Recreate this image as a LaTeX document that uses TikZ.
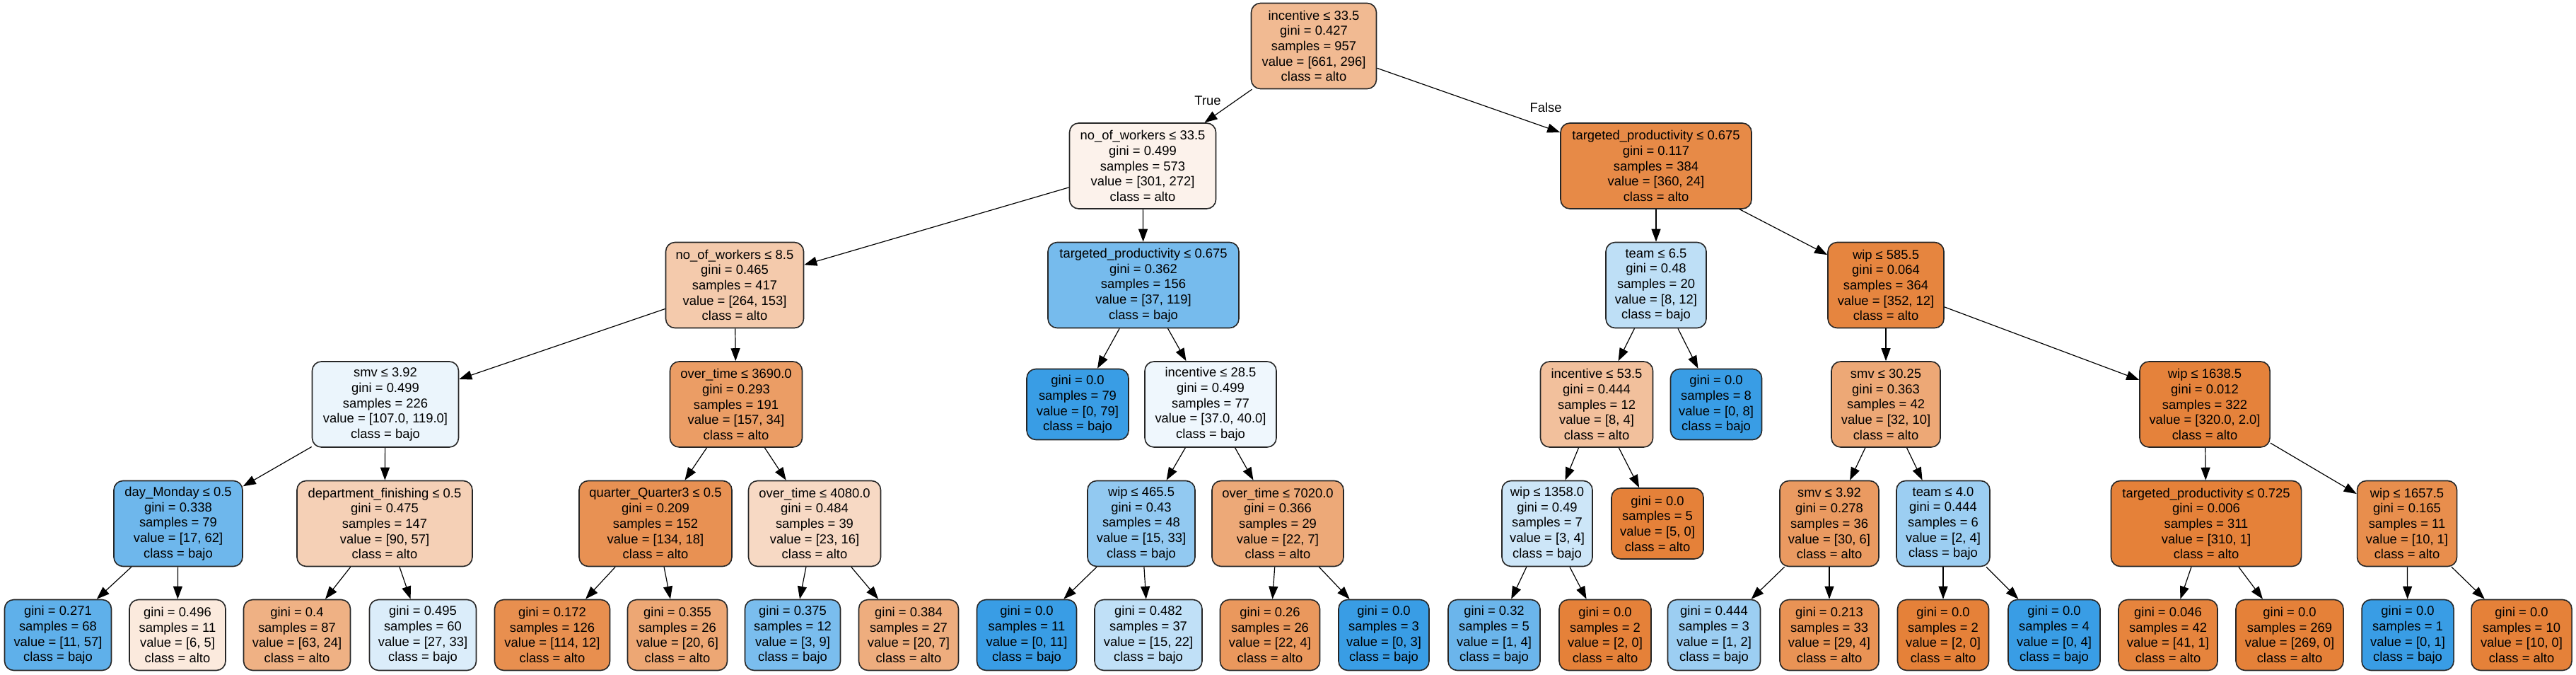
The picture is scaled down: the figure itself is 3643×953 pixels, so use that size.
\documentclass[tikz,border=0pt]{standalone}
\usepackage{fontspec}
\setmainfont{Liberation Sans}
\usetikzlibrary{arrows.meta}
\definecolor{alto}{RGB}{229,129,57}
\definecolor{bajo}{RGB}{57,157,229}

\begin{document}
\begin{tikzpicture}[x=0.5pt, y=-0.5pt,
        box/.style={draw=black!85, line width=0.8pt, rounded corners=6.5pt, align=center, inner sep=0pt, font=\fontsize{9.2}{10.85}\selectfont},
        split/.style={box, minimum height=60.5pt},
        leaf/.style={box, minimum height=50pt},
        edge/.style={-{Triangle[length=9pt, width=6.5pt]}, line width=0.6pt},
        elabel/.style={font=\fontsize{9.2}{10.85}\selectfont, inner sep=0pt}]
    \useasboundingbox (0,0) rectangle (3643,953);
    % row 1 and 2
    \node[split, fill=alto!55, minimum width=88.5pt] (n0) at (1858,65) {incentive ≤ 33.5\\gini = 0.427\\samples = 957\\value = [661, 296]\\class = alto};
    \node[split, fill=alto!10, minimum width=103.5pt] (n1) at (1616,234.5) {no\_of\_workers ≤ 33.5\\gini = 0.499\\samples = 573\\value = [301, 272]\\class = alto};
    \node[split, fill=alto!93, minimum width=135pt] (n26) at (2342,234.5) {targeted\_productivity ≤ 0.675\\gini = 0.117\\samples = 384\\value = [360, 24]\\class = alto};
    % row 3
    \node[split, fill=alto!42, minimum width=97.5pt] (n2) at (1039,403) {no\_of\_workers ≤ 8.5\\gini = 0.465\\samples = 417\\value = [264, 153]\\class = alto};
    \node[split, fill=bajo!69, minimum width=135pt] (n17) at (1617,403) {targeted\_productivity ≤ 0.675\\gini = 0.362\\samples = 156\\value = [37, 119]\\class = bajo};
    \node[split, fill=bajo!33, minimum width=71pt] (n27) at (2342,403) {team ≤ 6.5\\gini = 0.48\\samples = 20\\value = [8, 12]\\class = bajo};
    \node[split, fill=alto!97, minimum width=82pt] (n34) at (2667,403) {wip ≤ 585.5\\gini = 0.064\\samples = 364\\value = [352, 12]\\class = alto};
    % row 4
    \node[split, fill=bajo!10, minimum width=103.5pt] (n3) at (545,571.5) {smv ≤ 3.92\\gini = 0.499\\samples = 226\\value = [107.0, 119.0]\\class = bajo};
    \node[split, fill=alto!78, minimum width=93.5pt] (n10) at (1041,571.5) {over\_time ≤ 3690.0\\gini = 0.293\\samples = 191\\value = [157, 34]\\class = alto};
    \node[leaf, fill=bajo, minimum width=72pt] (n18) at (1524,571.5) {gini = 0.0\\samples = 79\\value = [0, 79]\\class = bajo};
    \node[split, fill=bajo!8, minimum width=93pt] (n19) at (1712,571.5) {incentive ≤ 28.5\\gini = 0.499\\samples = 77\\value = [37.0, 40.0]\\class = bajo};
    \node[split, fill=alto!50, minimum width=79.5pt] (n28) at (2258,571.5) {incentive ≤ 53.5\\gini = 0.444\\samples = 12\\value = [8, 4]\\class = alto};
    \node[leaf, fill=bajo, minimum width=64.5pt] (n33) at (2427,571.5) {gini = 0.0\\samples = 8\\value = [0, 8]\\class = bajo};
    \node[split, fill=alto!69, minimum width=77pt] (n35) at (2667,571.5) {smv ≤ 30.25\\gini = 0.363\\samples = 42\\value = [32, 10]\\class = alto};
    \node[split, fill=alto!99, minimum width=92pt] (n42) at (3118,571.5) {wip ≤ 1638.5\\gini = 0.012\\samples = 322\\value = [320.0, 2.0]\\class = alto};
    % row 5
    \node[split, fill=bajo!73, minimum width=91pt] (n4) at (252,740) {day\_Monday ≤ 0.5\\gini = 0.338\\samples = 79\\value = [17, 62]\\class = bajo};
    \node[split, fill=alto!37, minimum width=124pt] (n7) at (544,740) {department\_finishing ≤ 0.5\\gini = 0.475\\samples = 147\\value = [90, 57]\\class = alto};
    \node[split, fill=alto!87, minimum width=108pt] (n11) at (927,740) {quarter\_Quarter3 ≤ 0.5\\gini = 0.209\\samples = 152\\value = [134, 18]\\class = alto};
    \node[split, fill=alto!30, minimum width=93.5pt] (n14) at (1152,740) {over\_time ≤ 4080.0\\gini = 0.484\\samples = 39\\value = [23, 16]\\class = alto};
    \node[split, fill=bajo!55, minimum width=76pt] (n20) at (1614,740) {wip ≤ 465.5\\gini = 0.43\\samples = 48\\value = [15, 33]\\class = bajo};
    \node[split, fill=alto!68, minimum width=93pt] (n23) at (1807,740) {over\_time ≤ 7020.0\\gini = 0.366\\samples = 29\\value = [22, 7]\\class = alto};
    \node[split, fill=bajo!25, minimum width=64pt] (n29) at (2188,740) {wip ≤ 1358.0\\gini = 0.49\\samples = 7\\value = [3, 4]\\class = bajo};
    \node[leaf, fill=alto, minimum width=65pt] (n32) at (2344,740) {gini = 0.0\\samples = 5\\value = [5, 0]\\class = alto};
    \node[split, fill=alto!80, minimum width=70pt] (n36) at (2587,740) {smv ≤ 3.92\\gini = 0.278\\samples = 36\\value = [30, 6]\\class = alto};
    \node[split, fill=bajo!50, minimum width=66pt] (n39) at (2748,740) {team ≤ 4.0\\gini = 0.444\\samples = 6\\value = [2, 4]\\class = bajo};
    \node[split, fill=alto, minimum width=134.5pt] (n43) at (3120,740) {targeted\_productivity ≤ 0.725\\gini = 0.006\\samples = 311\\value = [310, 1]\\class = alto};
    \node[split, fill=alto!90, minimum width=70.5pt] (n46) at (3404,740) {wip ≤ 1657.5\\gini = 0.165\\samples = 11\\value = [10, 1]\\class = alto};
    % row 6, leaves
    \node[leaf, fill=bajo!81, minimum width=75.5pt] (n5) at (82,897.5) {gini = 0.271\\samples = 68\\value = [11, 57]\\class = bajo};
    \node[leaf, fill=alto!17, minimum width=68pt] (n6) at (251,897.5) {gini = 0.496\\samples = 11\\value = [6, 5]\\class = alto};
    \node[leaf, fill=alto!62, minimum width=75.5pt] (n8) at (420,897.5) {gini = 0.4\\samples = 87\\value = [63, 24]\\class = alto};
    \node[leaf, fill=bajo!18, minimum width=75.5pt] (n9) at (598,897.5) {gini = 0.495\\samples = 60\\value = [27, 33]\\class = bajo};
    \node[leaf, fill=alto!89, minimum width=81.5pt] (n12) at (781,897.5) {gini = 0.172\\samples = 126\\value = [114, 12]\\class = alto};
    \node[leaf, fill=alto!70, minimum width=70.5pt] (n13) at (958,897.5) {gini = 0.355\\samples = 26\\value = [20, 6]\\class = alto};
    \node[leaf, fill=bajo!67, minimum width=67.5pt] (n15) at (1121,897.5) {gini = 0.375\\samples = 12\\value = [3, 9]\\class = bajo};
    \node[leaf, fill=alto!65, minimum width=70.5pt] (n16) at (1285,897.5) {gini = 0.384\\samples = 27\\value = [20, 7]\\class = alto};
    \node[leaf, fill=bajo, minimum width=70.5pt] (n21) at (1452,897.5) {gini = 0.0\\samples = 11\\value = [0, 11]\\class = bajo};
    \node[leaf, fill=bajo!32, minimum width=76pt] (n22) at (1624,897.5) {gini = 0.482\\samples = 37\\value = [15, 22]\\class = bajo};
    \node[leaf, fill=alto!82, minimum width=70.5pt] (n24) at (1796,897.5) {gini = 0.26\\samples = 26\\value = [22, 4]\\class = alto};
    \node[leaf, fill=bajo, minimum width=64pt] (n25) at (1957,897.5) {gini = 0.0\\samples = 3\\value = [0, 3]\\class = bajo};
    \node[leaf, fill=bajo!75, minimum width=65pt] (n30) at (2113,897.5) {gini = 0.32\\samples = 5\\value = [1, 4]\\class = bajo};
    \node[leaf, fill=alto, minimum width=65pt] (n31) at (2270,897.5) {gini = 0.0\\samples = 2\\value = [2, 0]\\class = alto};
    \node[leaf, fill=bajo!50, minimum width=65.5pt] (n37) at (2424,897.5) {gini = 0.444\\samples = 3\\value = [1, 2]\\class = bajo};
    \node[leaf, fill=alto!86, minimum width=70pt] (n38) at (2587,897.5) {gini = 0.213\\samples = 33\\value = [29, 4]\\class = alto};
    \node[leaf, fill=alto, minimum width=64.5pt] (n40) at (2748,897.5) {gini = 0.0\\samples = 2\\value = [2, 0]\\class = alto};
    \node[leaf, fill=bajo, minimum width=65pt] (n41) at (2905,897.5) {gini = 0.0\\samples = 4\\value = [0, 4]\\class = bajo};
    \node[leaf, fill=alto!98, minimum width=70pt] (n44) at (3066,897.5) {gini = 0.046\\samples = 42\\value = [41, 1]\\class = alto};
    \node[leaf, fill=alto, minimum width=76pt] (n45) at (3238,897.5) {gini = 0.0\\samples = 269\\value = [269, 0]\\class = alto};
    \node[leaf, fill=bajo, minimum width=65pt] (n47) at (3405,897.5) {gini = 0.0\\samples = 1\\value = [0, 1]\\class = bajo};
    \node[leaf, fill=alto, minimum width=71pt] (n48) at (3566,897.5) {gini = 0.0\\samples = 10\\value = [10, 0]\\class = alto};
    % edges
    \foreach \a/\b in {0/1, 0/26, 1/2, 1/17, 2/3, 2/10, 3/4, 3/7, 4/5, 4/6, 7/8, 7/9,
            10/11, 10/14, 11/12, 11/13, 14/15, 14/16, 17/18, 17/19, 19/20, 19/23,
            20/21, 20/22, 23/24, 23/25, 26/27, 26/34, 27/28, 27/33, 28/29, 28/32,
            29/30, 29/31, 34/35, 34/42, 35/36, 35/39, 36/37, 36/38, 39/40, 39/41,
            42/43, 42/46, 43/44, 43/45, 46/47, 46/48}
        \draw[edge] (n\a) -- (n\b);
    \node[elabel] (ltrue) at (1708,142) {True};
    \node[elabel] (lfalse) at (2186,152) {False};
\end{tikzpicture}
\end{document}
